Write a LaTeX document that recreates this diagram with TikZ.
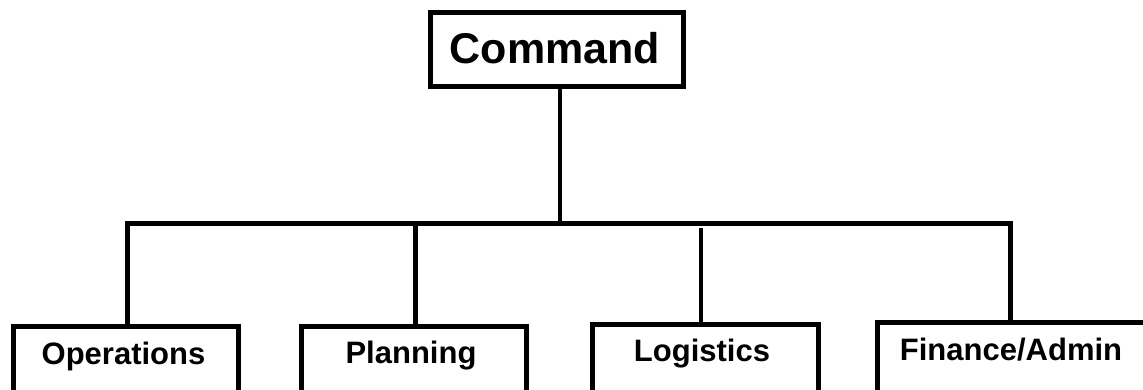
\documentclass[tikz,border=0pt]{standalone}
\usepackage{fontspec}
\setmainfont{Liberation Sans}
\begin{document}
\begin{tikzpicture}[x=1pt,y=1pt,
  box/.style={draw, line width=5pt, minimum width=225.5pt, inner sep=0pt, anchor=north west},
  lbl/.style={font=\fontsize{31}{36}\selectfont\bfseries, anchor=base, inner sep=0pt},
  conn/.style={line width=4.7pt, line join=miter}]
\useasboundingbox (0,0) rectangle (1143,-390);
\clip (0,0) rectangle (1143,-390);
% boxes
\node[box, minimum width=253pt, minimum height=73.5pt] (cmd) at (428,-10.5) {};
\node[box, minimum height=72.5pt] (ops) at (10.5,-323.5) {};
\node[box, minimum height=72.5pt] (pla) at (298.5,-323.5) {};
\node[box, minimum height=70pt] (log) at (590,-321.5) {};
\node[box, minimum width=271pt, minimum height=72pt] (fin) at (874.5,-319.5) {};
% labels
\node[font=\fontsize{43}{50}\selectfont\bfseries, anchor=base, inner sep=0pt] (cmdt) at (555,-63.3) {Command};
\node[lbl] (opst) at (123.5,-364) {Operations};
\node[lbl] (plat) at (411,-363) {Planning};
\node[lbl] (logt) at (702,-361.7) {Logistics};
\node[lbl] (fint) at (1011,-360) {Finance/Admin};
% connectors
\coordinate (bus) at (557.5,-223.5);
\coordinate (logtop) at (701,-228);
\draw[conn] ([xshift=3pt]cmd.south) -- ([xshift=3pt]cmd.south |- bus);
\draw[conn] ([xshift=1.75pt]ops.north) |- (bus) -| ([xshift=-2pt]fin.north);
\draw[conn] ([xshift=1.75pt]pla.north) -- ([xshift=1.75pt]pla.north |- bus);
\draw[conn] (log.north -| logtop) -- (logtop);
\end{tikzpicture}
\end{document}
